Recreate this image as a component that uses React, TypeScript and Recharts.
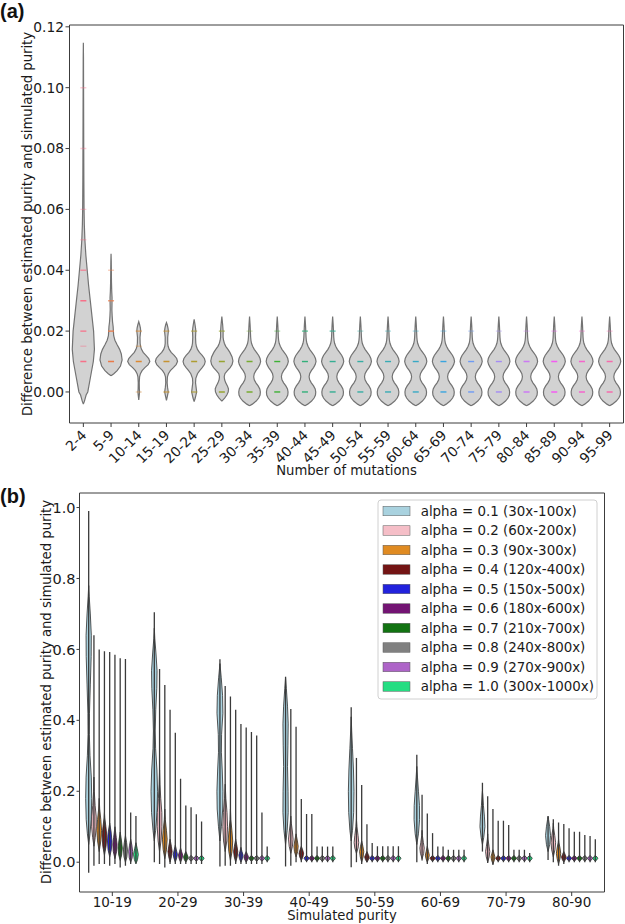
import { ComposedChart, Scatter, XAxis, YAxis, ReferenceLine } from "recharts"

document.body.style.margin = "0"

const FONT = "DejaVu Sans, sans-serif"
const INK = "#1a1a1a"
const FRAME = "#3c3c3c"

// ---------- panel (a): purity error by number of mutations ----------
const mutationBins = [
  "2-4", "5-9", "10-14", "15-19", "20-24", "25-29", "30-34", "35-39", "40-44", "45-49",
  "50-54", "55-59", "60-64", "65-69", "70-74", "75-79", "80-84", "85-89", "90-94", "95-99",
]
const diffTicksA = [0, 0.02, 0.04, 0.06, 0.08, 0.1, 0.12]

// violin outlines: [value, half width in category units]
const violin2to4 = [
  [-0.004, 0], [-0.003, 0.04], [-0.001, 0.1], [0, 0.16], [0.005, 0.26], [0.01, 0.36], [0.014, 0.4],
  [0.02, 0.37], [0.025, 0.31], [0.03, 0.25], [0.035, 0.19], [0.04, 0.14], [0.045, 0.09], [0.05, 0.055],
  [0.055, 0.035], [0.06, 0.025], [0.07, 0.018], [0.08, 0.014], [0.09, 0.011], [0.1, 0.008], [0.11, 0.005], [0.1148, 0],
]
const violin5to9 = [
  [0.0053, 0], [0.006, 0.1], [0.007, 0.22], [0.0085, 0.34], [0.0105, 0.4], [0.0125, 0.37], [0.014, 0.31],
  [0.0155, 0.22], [0.017, 0.14], [0.0185, 0.095], [0.02, 0.085], [0.0215, 0.075], [0.023, 0.055], [0.025, 0.04],
  [0.027, 0.03], [0.029, 0.034], [0.031, 0.036], [0.033, 0.025], [0.036, 0.016], [0.04, 0.011], [0.043, 0.007], [0.0454, 0],
]
const violin10to14 = [
  [-0.0026, 0], [-0.001, 0.02], [0, 0.03], [0.001, 0.022], [0.003, 0.018], [0.005, 0.03], [0.006, 0.06],
  [0.007, 0.12], [0.008, 0.22], [0.009, 0.34], [0.01, 0.4], [0.011, 0.36], [0.012, 0.26], [0.013, 0.16],
  [0.014, 0.1], [0.015, 0.065], [0.016, 0.05], [0.018, 0.045], [0.02, 0.07], [0.021, 0.06], [0.022, 0.035], [0.0231, 0],
]
const violin15to19 = [
  [-0.0028, 0], [-0.0015, 0.03], [0, 0.065], [0.0015, 0.04], [0.003, 0.025], [0.005, 0.035], [0.006, 0.07],
  [0.007, 0.14], [0.008, 0.25], [0.009, 0.35], [0.01, 0.4], [0.011, 0.37], [0.012, 0.28], [0.013, 0.17],
  [0.014, 0.1], [0.015, 0.06], [0.016, 0.045], [0.018, 0.045], [0.02, 0.07], [0.021, 0.055], [0.022, 0.03], [0.0228, 0],
]
const violin20to24 = [
  [-0.0032, 0], [-0.002, 0.04], [0, 0.09], [0.0015, 0.07], [0.003, 0.05], [0.0045, 0.06], [0.006, 0.12],
  [0.007, 0.2], [0.008, 0.29], [0.009, 0.37], [0.01, 0.4], [0.011, 0.37], [0.012, 0.29], [0.013, 0.19],
  [0.014, 0.12], [0.015, 0.08], [0.016, 0.06], [0.018, 0.05], [0.02, 0.06], [0.021, 0.05], [0.0225, 0.025], [0.0239, 0],
]
const violin25to29 = [
  [-0.003, 0], [-0.002, 0.1], [-0.001, 0.18], [0, 0.23], [0.001, 0.24], [0.002, 0.2], [0.003, 0.14],
  [0.004, 0.1], [0.005, 0.085], [0.006, 0.11], [0.007, 0.2], [0.008, 0.3], [0.009, 0.37], [0.0102, 0.4],
  [0.0115, 0.37], [0.013, 0.29], [0.014, 0.22], [0.015, 0.14], [0.016, 0.09], [0.017, 0.06], [0.018, 0.045],
  [0.02, 0.045], [0.022, 0.03], [0.0248, 0],
]
const violinBimodal = [
  [-0.0045, 0], [-0.004, 0.1], [-0.003, 0.24], [-0.002, 0.33], [-0.001, 0.38], [0, 0.39], [0.001, 0.37],
  [0.002, 0.31], [0.003, 0.23], [0.004, 0.17], [0.005, 0.15], [0.006, 0.17], [0.007, 0.23], [0.008, 0.31],
  [0.009, 0.37], [0.01, 0.4], [0.011, 0.38], [0.012, 0.33], [0.013, 0.25], [0.014, 0.17], [0.015, 0.11],
  [0.016, 0.07], [0.017, 0.05], [0.018, 0.04], [0.02, 0.03], [0.022, 0.02], [0.0248, 0],
]
const profilesA = [
  violin2to4, violin5to9, violin10to14, violin15to19, violin20to24, violin25to29,
  violinBimodal, violinBimodal, violinBimodal, violinBimodal, violinBimodal, violinBimodal, violinBimodal,
  violinBimodal, violinBimodal, violinBimodal, violinBimodal, violinBimodal, violinBimodal, violinBimodal,
]

// strip points: [value, number of overlapping points]
const stripA = [
  [[0.01, 3], [0.015, 1], [0.02, 3], [0.03, 3], [0.04, 2], [0.05, 1], [0.06, 1], [0.08, 1], [0.1, 1]],
  [[0.01, 3], [0.02, 3], [0.03, 2], [0.04, 1]],
  [[0, 1], [0.01, 3], [0.015, 1], [0.02, 2]],
  [[0, 2], [0.01, 3], [0.02, 2]],
  [[0, 2], [0.01, 3], [0.02, 2]],
  [[0, 3], [0.01, 3], [0.02, 2]],
  [[0, 3], [0.01, 3], [0.02, 1]],
  [[0, 3], [0.01, 3], [0.02, 1]],
  [[0, 3], [0.01, 3], [0.02, 2]],
  [[0, 3], [0.01, 3], [0.02, 2]],
  [[0, 3], [0.01, 3], [0.02, 1]],
  [[0, 3], [0.01, 3], [0.02, 1]],
  [[0, 3], [0.01, 3], [0.02, 1]],
  [[0, 3], [0.01, 3], [0.02, 1]],
  [[0, 3], [0.01, 3], [0.02, 1]],
  [[0, 3], [0.01, 3], [0.02, 1]],
  [[0, 3], [0.01, 3], [0.02, 1]],
  [[0, 3], [0.01, 3], [0.02, 1]],
  [[0, 3], [0.01, 3], [0.02, 1]],
  [[0, 3], [0.01, 3], [0.02, 1]],
]
const stripColors = [
  "#f77189", "#ea7a48", "#dc8932", "#c69332", "#ae9d31", "#97a431", "#77ab31", "#3db134", "#33b07a", "#35ae93",
  "#36ada4", "#37abb4", "#38a9c5", "#3aa5df", "#6e9bf4", "#a48cf4", "#cc7af4", "#f45cf2", "#f565cc", "#f66bad",
]

// ---------- panel (b): purity error by simulated purity and alpha ----------
const purityBins = ["10-19", "20-29", "30-39", "40-49", "50-59", "60-69", "70-79", "80-90"]
const diffTicksB = [0, 0.2, 0.4, 0.6, 0.8, 1.0]
const alphaLabels = [
  "alpha = 0.1 (30x-100x)", "alpha = 0.2 (60x-200x)", "alpha = 0.3 (90x-300x)", "alpha = 0.4 (120x-400x)",
  "alpha = 0.5 (150x-500x)", "alpha = 0.6 (180x-600x)", "alpha = 0.7 (210x-700x)", "alpha = 0.8 (240x-800x)",
  "alpha = 0.9 (270x-900x)", "alpha = 1.0 (300x-1000x)",
]
const alphaColors = [
  "#a9d2df", "#f5bec7", "#e08b22", "#731414", "#2222dd", "#731473", "#127312", "#808080", "#ae64c8", "#25dd82",
]

// whisker extent per alpha (rows) and purity bin (columns)
const whiskerTop = [
  [0.99, 0.705, 0.572, 0.523, 0.437, 0.303, 0.224, 0.129],
  [0.64, 0.545, 0.497, 0.432, 0.294, 0.19, 0.186, 0.121],
  [0.6, 0.5, 0.467, 0.382, 0.218, 0.137, 0.15, 0.112],
  [0.595, 0.43, 0.43, 0.178, 0.107, 0.082, 0.117, 0.108],
  [0.593, 0.365, 0.39, 0.136, 0.054, 0.044, 0.117, 0.096],
  [0.585, 0.235, 0.38, 0.136, 0.045, 0.044, 0.105, 0.086],
  [0.575, 0.16, 0.367, 0.044, 0.045, 0.035, 0.035, 0.086],
  [0.573, 0.155, 0.357, 0.044, 0.045, 0.035, 0.035, 0.077],
  [0.14, 0.135, 0.14, 0.044, 0.045, 0.035, 0.035, 0.074],
  [0.13, 0.115, 0.044, 0.044, 0.045, 0.035, 0.026, 0.065],
]
const whiskerBottom = [
  [-0.03, 0.0, -0.012, -0.012, -0.014, 0.0, 0.03, 0.006],
  [-0.01, -0.005, -0.01, -0.01, 0.0, 0.005, -0.002, 0.0],
  [-0.005, -0.015, -0.01, 0.0, -0.005, -0.005, -0.008, -0.01],
  [-0.005, -0.005, -0.005, 0.0, 0.0, 0.0, 0.0, -0.005],
  [-0.01, -0.005, -0.005, 0.0, 0.0, 0.0, 0.0, 0.0],
  [-0.005, -0.005, -0.005, 0.0, 0.0, 0.0, 0.0, 0.0],
  [-0.015, -0.005, -0.005, 0.0, 0.0, 0.0, 0.0, 0.0],
  [-0.01, -0.005, -0.005, 0.0, 0.0, 0.0, 0.0, 0.0],
  [-0.005, -0.005, -0.005, 0.0, 0.0, 0.0, 0.0, 0.0],
  [0.0, -0.005, 0.0, 0.0, 0.0, 0.0, 0.0, 0.0],
]

const tiny = [[0.003, 0], [0.007, 0.025], [0.011, 0.038], [0.015, 0.025], [0.019, 0]]
const small = [[0, 0], [0.008, 0.025], [0.015, 0.035], [0.022, 0.02], [0.03, 0]]
const bodiesB = [
  [
    [[0.05, 0], [0.08, 0.02], [0.12, 0.038], [0.18, 0.046], [0.24, 0.04], [0.3, 0.02], [0.36, 0.01], [0.42, 0.012], [0.5, 0.025], [0.58, 0.038], [0.64, 0.04], [0.7, 0.025], [0.75, 0.008], [0.78, 0]],
    [[0.06, 0], [0.09, 0.02], [0.14, 0.042], [0.2, 0.05], [0.26, 0.04], [0.32, 0.02], [0.37, 0.014], [0.43, 0.022], [0.49, 0.038], [0.54, 0.042], [0.59, 0.025], [0.63, 0.008], [0.66, 0]],
    [[0.06, 0], [0.1, 0.022], [0.15, 0.042], [0.2, 0.046], [0.26, 0.035], [0.31, 0.022], [0.36, 0.025], [0.42, 0.045], [0.47, 0.04], [0.52, 0.02], [0.56, 0]],
    [[0.05, 0], [0.09, 0.025], [0.14, 0.04], [0.2, 0.038], [0.27, 0.03], [0.33, 0.036], [0.39, 0.04], [0.44, 0.03], [0.49, 0.012], [0.52, 0]],
    [[0.06, 0], [0.09, 0.02], [0.14, 0.038], [0.2, 0.043], [0.26, 0.035], [0.32, 0.02], [0.37, 0.008], [0.41, 0]],
    [[0.05, 0], [0.08, 0.025], [0.12, 0.042], [0.16, 0.04], [0.2, 0.025], [0.24, 0.01], [0.27, 0]],
    [[0.05, 0], [0.07, 0.02], [0.1, 0.038], [0.13, 0.03], [0.16, 0.015], [0.19, 0.005], [0.2, 0]],
    [[0.03, 0], [0.05, 0.025], [0.075, 0.038], [0.1, 0.025], [0.12, 0.008], [0.13, 0]],
  ],
  [
    [[0.045, 0], [0.07, 0.02], [0.1, 0.035], [0.13, 0.034], [0.16, 0.018], [0.2, 0.005], [0.24, 0]],
    [[0.03, 0], [0.06, 0.022], [0.1, 0.036], [0.14, 0.035], [0.18, 0.018], [0.22, 0.006], [0.26, 0]],
    [[0.03, 0], [0.06, 0.025], [0.1, 0.036], [0.14, 0.028], [0.18, 0.01], [0.22, 0]],
    [[0.025, 0], [0.045, 0.025], [0.065, 0.035], [0.085, 0.025], [0.11, 0.008], [0.13, 0]],
    [[0.025, 0], [0.04, 0.025], [0.055, 0.035], [0.075, 0.025], [0.1, 0.008], [0.12, 0]],
    [[0.01, 0], [0.025, 0.025], [0.04, 0.033], [0.055, 0.02], [0.075, 0.005], [0.09, 0]],
    [[0, 0], [0.015, 0.022], [0.03, 0.032], [0.045, 0.02], [0.065, 0.005], [0.08, 0]],
    [[0.015, 0], [0.035, 0.025], [0.055, 0.035], [0.075, 0.022], [0.095, 0.006], [0.11, 0]],
  ],
  [
    [[0.03, 0], [0.06, 0.025], [0.09, 0.036], [0.12, 0.025], [0.15, 0.008], [0.18, 0]],
    [[0.01, 0], [0.035, 0.025], [0.065, 0.036], [0.09, 0.025], [0.12, 0.008], [0.15, 0]],
    [[0.005, 0], [0.03, 0.025], [0.06, 0.035], [0.09, 0.022], [0.12, 0.006], [0.15, 0]],
    [[0.015, 0], [0.03, 0.025], [0.045, 0.032], [0.06, 0.02], [0.08, 0]],
    [[0, 0], [0.015, 0.022], [0.03, 0.032], [0.045, 0.018], [0.06, 0]],
    [[0, 0], [0.01, 0.02], [0.02, 0.03], [0.03, 0.018], [0.045, 0]],
    [[-0.005, 0], [0.005, 0.02], [0.015, 0.03], [0.025, 0.015], [0.035, 0]],
    [[-0.005, 0], [0.01, 0.022], [0.025, 0.033], [0.04, 0.022], [0.055, 0.006], [0.065, 0]],
  ],
  [
    [[0.02, 0], [0.045, 0.025], [0.075, 0.036], [0.1, 0.022], [0.125, 0.005], [0.14, 0]],
    [[0, 0], [0.015, 0.02], [0.03, 0.032], [0.045, 0.02], [0.065, 0]],
    [[0, 0], [0.015, 0.022], [0.03, 0.032], [0.045, 0.02], [0.065, 0]],
    [[0.005, 0], [0.015, 0.025], [0.025, 0.035], [0.035, 0.02], [0.045, 0]],
    small, tiny, tiny, small,
  ],
  [
    [[0.015, 0], [0.035, 0.025], [0.06, 0.034], [0.085, 0.022], [0.11, 0]],
    [[0, 0], [0.012, 0.022], [0.022, 0.032], [0.035, 0.016], [0.048, 0]],
    [[0, 0], [0.01, 0.022], [0.02, 0.032], [0.03, 0.016], [0.042, 0]],
    tiny, tiny, tiny, tiny, tiny,
  ],
  [
    [[0.01, 0], [0.03, 0.025], [0.05, 0.032], [0.07, 0.02], [0.1, 0]],
    [[0, 0], [0.01, 0.022], [0.02, 0.032], [0.03, 0.016], [0.04, 0]],
    small, tiny, tiny, tiny, tiny, tiny,
  ],
  [
    [[0.005, 0], [0.02, 0.022], [0.04, 0.032], [0.06, 0.02], [0.085, 0]],
    small, tiny, tiny, tiny, tiny, tiny, tiny,
  ],
  [
    [[0, 0], [0.015, 0.022], [0.035, 0.03], [0.055, 0.018], [0.075, 0]],
    tiny, tiny, tiny, tiny, tiny, tiny, tiny,
  ],
  [
    [[0, 0], [0.012, 0.022], [0.03, 0.03], [0.048, 0.018], [0.065, 0]],
    tiny, tiny, tiny, tiny, tiny, tiny, tiny,
  ],
  [
    [[-0.005, 0], [0.008, 0.025], [0.022, 0.036], [0.038, 0.02], [0.055, 0]],
    tiny, tiny, tiny, tiny, tiny, tiny, tiny,
  ],
]

// closed outline: right side going up, left side coming down
const outline = (center: number, profile: number[][]) => [
  ...profile.map(([y, w]) => ({ x: center + w, y })),
  ...profile.slice().reverse().map(([y, w]) => ({ x: center - w, y })),
]

const NoDot = () => <g />

const Dash = (p: any) => (
  <line
    x1={p.cx - 3}
    x2={p.cx + 3}
    y1={p.cy}
    y2={p.cy}
    stroke={stripColors[p.payload.c]}
    strokeOpacity={Math.min(1, 0.35 * p.payload.n)}
    strokeWidth={1.4}
  />
)

const MutationTick = (p: any) => {
  const x0 = p.x + 4
  const y0 = p.y + 7
  return (
    <text x={x0} y={y0} transform={`rotate(-45 ${x0} ${y0})`} textAnchor="end" fontSize={13.8} fontFamily={FONT} fill={INK}>
      {mutationBins[p.payload.value]}
    </text>
  )
}

const tickStyleA = { fontSize: 13.8, fontFamily: FONT, fill: INK }
const tickStyleB = { fontSize: 14.5, fontFamily: FONT, fill: INK }
const tickStyleBx = { fontSize: 13.5, fontFamily: FONT, fill: INK }

function PanelA() {
  const domX: [number, number] = [-0.5, 19.5]
  const domY: [number, number] = [-0.0102, 0.1206]
  const strip = stripA.flatMap((pts, c) => pts.map(([v, n]) => ({ x: c, y: v, c, n })))
  return (
    <ComposedChart width={625} height={470} margin={{ top: 25, right: 1.5, left: 19.5, bottom: 10 }}>
      <XAxis
        dataKey="x"
        type="number"
        domain={domX}
        allowDataOverflow
        ticks={mutationBins.map((_, i) => i)}
        interval={0}
        height={37}
        tickSize={4}
        tickMargin={2}
        tick={<MutationTick />}
        tickLine={{ stroke: FRAME }}
        axisLine={{ stroke: FRAME }}
      />
      <YAxis
        dataKey="y"
        type="number"
        domain={domY}
        allowDataOverflow
        ticks={diffTicksA}
        interval={0}
        width={50}
        tickSize={4}
        tickMargin={1.5}
        tickFormatter={(v: number) => v.toFixed(2)}
        tick={tickStyleA}
        tickLine={{ stroke: FRAME }}
        axisLine={{ stroke: FRAME }}
      />
      <ReferenceLine y={domY[1]} stroke={FRAME} />
      <ReferenceLine x={domX[1]} stroke={FRAME} />
      {profilesA.map((prof, i) => (
        <Scatter
          key={`va${i}`}
          data={outline(i, prof)}
          line={{ stroke: "#737373", strokeWidth: 1.2, fill: "#d2d2d2" }}
          shape={NoDot}
          legendType="none"
          isAnimationActive={false}
        />
      ))}
      <Scatter data={strip} shape={Dash} legendType="none" isAnimationActive={false} />
    </ComposedChart>
  )
}

function PanelB() {
  const domX: [number, number] = [-0.5, 7.5]
  const domY: [number, number] = [-0.084, 1.041]
  const series: any[] = []
  purityBins.forEach((_, g) => {
    alphaColors.forEach((color, h) => {
      const center = g - 0.36 + 0.08 * h
      series.push(
        <Scatter
          key={`vb${g}-${h}`}
          data={outline(center, bodiesB[h][g])}
          line={{ stroke: "#2b2b2b", strokeWidth: 0.8, fill: color }}
          shape={NoDot}
          legendType="none"
          isAnimationActive={false}
        />,
      )
      series.push(
        <Scatter
          key={`wb${g}-${h}`}
          data={[
            { x: center, y: whiskerBottom[h][g] },
            { x: center, y: whiskerTop[h][g] },
          ]}
          line={{ stroke: "#3a3a3a", strokeWidth: 1.3 }}
          shape={NoDot}
          legendType="none"
          isAnimationActive={false}
        />,
      )
    })
  })
  return (
    <ComposedChart width={625} height={464} margin={{ top: 33, right: 20.5, left: 29.5, bottom: 0 }}>
      <XAxis
        dataKey="x"
        type="number"
        domain={domX}
        allowDataOverflow
        ticks={purityBins.map((_, i) => i)}
        interval={0}
        height={32}
        tickSize={4}
        tickMargin={1}
        tickFormatter={(v: number) => purityBins[v]}
        tick={tickStyleBx}
        tickLine={{ stroke: FRAME }}
        axisLine={{ stroke: FRAME }}
      />
      <YAxis
        dataKey="y"
        type="number"
        domain={domY}
        allowDataOverflow
        ticks={diffTicksB}
        interval={0}
        width={50}
        tickSize={3}
        tickMargin={1}
        tickFormatter={(v: number) => v.toFixed(1)}
        tick={tickStyleB}
        tickLine={{ stroke: FRAME }}
        axisLine={{ stroke: FRAME }}
      />
      <ReferenceLine y={domY[1]} stroke={FRAME} />
      <ReferenceLine x={domX[1]} stroke={FRAME} />
      {series}
    </ComposedChart>
  )
}

function AlphaLegend() {
  return (
    <svg width={221} height={201} style={{ position: "absolute", left: 377, top: 499 }}>
      <rect x={1} y={1} width={219} height={199} rx={3} fill="#ffffff" fillOpacity={0.85} stroke="#d0d0d0" />
      {alphaLabels.map((label, i) => (
        <g key={label}>
          <rect x={6} y={7.25 + i * 19.5} width={27} height={9.5} fill={alphaColors[i]} stroke="#5a5a5a" strokeWidth={0.5} />
          <text x={43.7} y={16.7 + i * 19.5} fontSize={13.4} fontFamily={FONT} fill={INK}>
            {label}
          </text>
        </g>
      ))}
    </svg>
  )
}

export default function App() {
  const yTitle = "Difference between estimated purity and simulated purity"
  return (
    <div style={{ position: "relative", width: 625, height: 924, background: "#fff", overflow: "hidden" }}>
      <div style={{ position: "absolute", left: 0, top: 0 }}>
        <PanelA />
      </div>
      <div style={{ position: "absolute", left: 0, top: 460 }}>
        <PanelB />
      </div>
      <svg width={625} height={924} style={{ position: "absolute", left: 0, top: 0, pointerEvents: "none" }}>
        <text x={0} y={17.5} fontSize={20} fontWeight="bold" fontFamily="Liberation Sans, Arial, sans-serif" fill="#111">(a)</text>
        <text x={0} y={503} fontSize={20} fontWeight="bold" fontFamily="Liberation Sans, Arial, sans-serif" fill="#111">(b)</text>
        <text x={27} y={224} transform="rotate(-90 27 224)" textAnchor="middle" dominantBaseline="central" fontSize={13.2} fontFamily={FONT} fill={INK}>
          {yTitle}
        </text>
        <text x={46} y={692} transform="rotate(-90 46 692)" textAnchor="middle" dominantBaseline="central" fontSize={13.2} fontFamily={FONT} fill={INK}>
          {yTitle}
        </text>
        <text x={346.5} y={475} textAnchor="middle" fontSize={13.2} fontFamily={FONT} fill={INK}>Number of mutations</text>
        <text x={342} y={920} textAnchor="middle" fontSize={13.2} fontFamily={FONT} fill={INK}>Simulated purity</text>
      </svg>
      <AlphaLegend />
    </div>
  )
}
